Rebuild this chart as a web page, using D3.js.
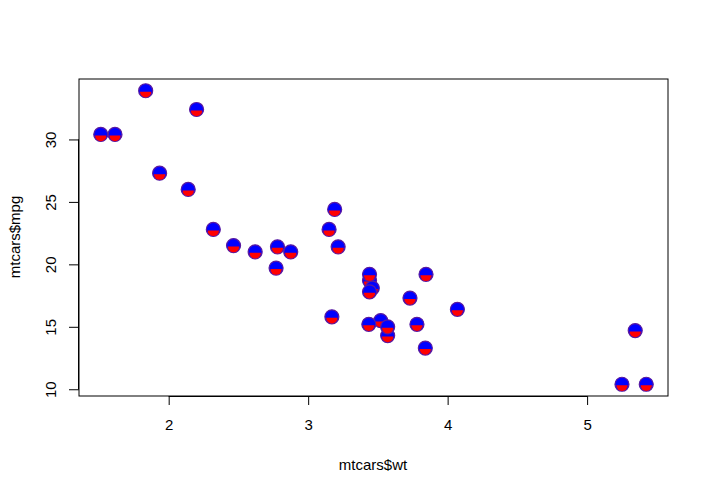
<!DOCTYPE html>
<html><head><meta charset="utf-8">
<script src="https://cdn.jsdelivr.net/npm/d3@7"></script>
<style>body{margin:0;background:#fff}</style>
</head><body>
<script>
const wt  = [2.620,2.875,2.320,3.215,3.440,3.460,3.570,3.190,3.150,3.440,3.440,4.070,3.730,3.780,5.250,5.424,5.345,2.200,1.615,1.835,2.465,3.520,3.435,3.840,3.845,1.935,2.140,1.513,3.170,2.770,3.570,2.780];
const mpg = [21.0,21.0,22.8,21.4,18.7,18.1,14.3,24.4,22.8,19.2,17.8,16.4,17.3,15.2,10.4,10.4,14.7,32.4,30.4,33.9,21.5,15.5,15.2,13.3,19.2,27.3,26.0,30.4,15.8,19.7,15.0,21.4];
const xTicks = [2,3,4,5];
const yTicks = [10,15,20,25,30];

const W=709,H=494;
const svg=d3.select("body").append("svg").attr("width",W).attr("height",H);
const x=d3.scaleLinear().domain([1.357,5.580]).range([79,668]);
const y=d3.scaleLinear().domain([9.46,34.84]).range([396,79]);
const font="Liberation Sans, Arial, sans-serif";
const fs=15;

svg.append("rect").attr("x",79).attr("y",79).attr("width",589).attr("height",317)
  .attr("fill","none").attr("stroke","#000").attr("stroke-width",1);

const xa=svg.append("g").attr("transform","translate(0,396)")
  .call(d3.axisBottom(x).tickValues(xTicks).tickSize(9).tickPadding(14).tickFormat(d3.format("d")));
xa.select(".domain").attr("d",`M${x(2)},0.5H${x(5)}`);
xa.selectAll("text").attr("font-family",font).attr("font-size",fs).attr("fill","#000");

const ya=svg.append("g").attr("transform","translate(79,0)")
  .call(d3.axisLeft(y).tickValues(yTicks).tickSize(10).tickFormat(d3.format("d")));
ya.select(".domain").attr("d",`M-0.5,${y(10)}V${y(30)}`);
ya.selectAll(".tick text").attr("font-family",font).attr("font-size",fs).attr("fill","#000")
  .attr("transform","rotate(-90)").attr("x",0).attr("y",-23).attr("dy",0).attr("text-anchor","middle");
svg.selectAll(".tick line").attr("stroke","#000");
svg.selectAll(".domain").attr("stroke","#000");

svg.append("text").attr("x",373).attr("y",470).attr("text-anchor","middle")
  .attr("font-family",font).attr("font-size",fs).text("mtcars$wt");
svg.append("text").attr("transform","translate(20,237) rotate(-90)").attr("text-anchor","middle")
  .attr("font-family",font).attr("font-size",fs).text("mtcars$mpg");

const pts=wt.map((w,i)=>({w,m:mpg[i]}));
const r=7;
const g=svg.append("g");
pts.forEach(p=>{
  const cx=x(p.w), cy=y(p.m);
  g.append("circle").attr("cx",cx).attr("cy",cy).attr("r",r).attr("fill","#0000ff").attr("stroke","#5a1aa0").attr("stroke-width",1.2);
  const rr=r-1.3, oy=cy+1;
  g.append("path").attr("d",`M${cx-rr},${oy}A${rr},${rr} 0 0 0 ${cx+rr},${oy}Z`).attr("fill","#ff0000");
});
</script>
</body></html>
